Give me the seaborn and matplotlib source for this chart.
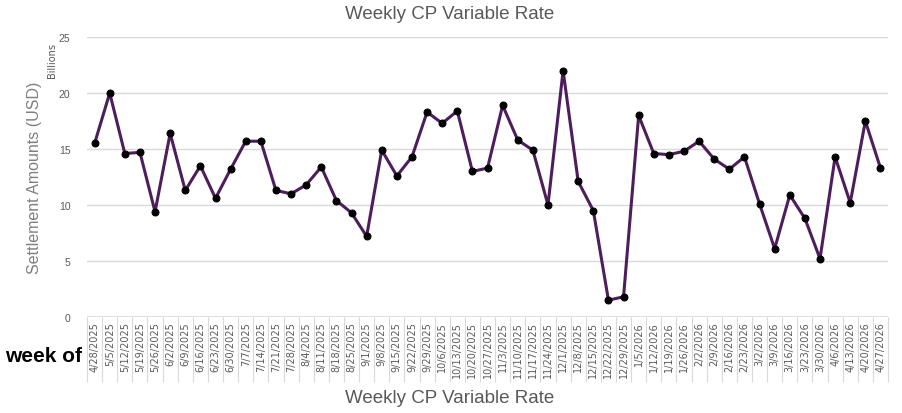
import pandas as pd
import seaborn as sns
import matplotlib.pyplot as plt

# data (billions USD)
weeks = ['4/28/2025', '5/5/2025', '5/12/2025', '5/19/2025', '5/26/2025', '6/2/2025', '6/9/2025',
         '6/16/2025', '6/23/2025', '6/30/2025', '7/7/2025', '7/14/2025', '7/21/2025', '7/28/2025',
         '8/4/2025', '8/11/2025', '8/18/2025', '8/25/2025', '9/1/2025', '9/8/2025', '9/15/2025',
         '9/22/2025', '9/29/2025', '10/6/2025', '10/13/2025', '10/20/2025', '10/27/2025', '11/3/2025',
         '11/10/2025', '11/17/2025', '11/24/2025', '12/1/2025', '12/8/2025', '12/15/2025',
         '12/22/2025', '12/29/2025', '1/5/2026', '1/12/2026', '1/19/2026', '1/26/2026', '2/2/2026',
         '2/9/2026', '2/16/2026', '2/23/2026', '3/2/2026', '3/9/2026', '3/16/2026', '3/23/2026',
         '3/30/2026', '4/6/2026', '4/13/2026', '4/20/2026', '4/27/2026']
amounts = [15.5, 20.0, 14.6, 14.7, 9.4, 16.4, 11.3,
           13.5, 10.6, 13.2, 15.7, 15.7, 11.3, 11.0,
           11.8, 13.4, 10.4, 9.3, 7.2, 14.9, 12.6,
           14.3, 18.3, 17.3, 18.4, 13.0, 13.3, 18.9,
           15.8, 14.9, 10.0, 22.0, 12.1, 9.5,
           1.5, 1.8, 18.0, 14.6, 14.5, 14.8, 15.7,
           14.1, 13.2, 14.3, 10.1, 6.1, 10.9, 8.8,
           5.2, 14.3, 10.2, 17.5, 13.3]

df = pd.DataFrame({'week': weeks, 'amount': amounts})
df['pos'] = range(len(df))

sns.set_style('white')
plt.rcParams['font.family'] = ['Liberation Sans', 'DejaVu Sans']

fig = plt.figure(figsize=(9.02, 4.14), dpi=100)
ax = fig.add_axes([0.0965, 0.232, 0.888, 0.676])

sns.lineplot(data=df, x='pos', y='amount', ax=ax, color='#4d1d5c', linewidth=2.2,
             marker='o', markersize=5, markerfacecolor='black', markeredgecolor='black')

ax.set_xlim(-0.5, len(weeks) - 0.5)
ax.set_ylim(0, 25)
ax.set_yticks([0, 5, 10, 15, 20, 25])
ax.yaxis.grid(True, color='#d9d9d9', linewidth=1)
ax.set_axisbelow(True)
for s in ax.spines.values():
    s.set_visible(False)

ax.set_xticks(range(len(weeks)))
ax.set_xticklabels(weeks, rotation=90, fontsize=7, color='#595959', family=['DejaVu Sans'])
ax.set_xticks([i - 0.5 for i in range(len(weeks) + 1)], minor=True)
ax.tick_params(axis='x', which='major', bottom=True, length=0, pad=3)
ax.tick_params(axis='x', which='minor', bottom=True, length=47, width=0.8, color='#d9d9d9',
               direction='out')
ax.tick_params(axis='y', length=0, labelsize=7.5, labelcolor='#595959', pad=12)
ax.axhline(0, color='#d9d9d9', linewidth=1.2)

ax.set_xlabel('')
ax.set_ylabel('Settlement Amounts (USD)', fontsize=11.5, color='#7f7f7f', labelpad=12)

fig.text(0.499, 0.965, 'Weekly CP Variable Rate', ha='center', va='center', fontsize=13.5, color='#595959')
fig.text(0.499, 0.038, 'Weekly CP Variable Rate', ha='center', va='center', fontsize=13.5, color='#595959')
fig.text(0.058, 0.855, 'Billions', rotation=90, ha='center', va='center', fontsize=7, color='#595959',
         family=['DejaVu Sans'])
fig.text(0.006, 0.14, 'week of', ha='left', va='center', fontsize=15, fontweight='bold', color='black')

plt.savefig('out.png', dpi=100)
